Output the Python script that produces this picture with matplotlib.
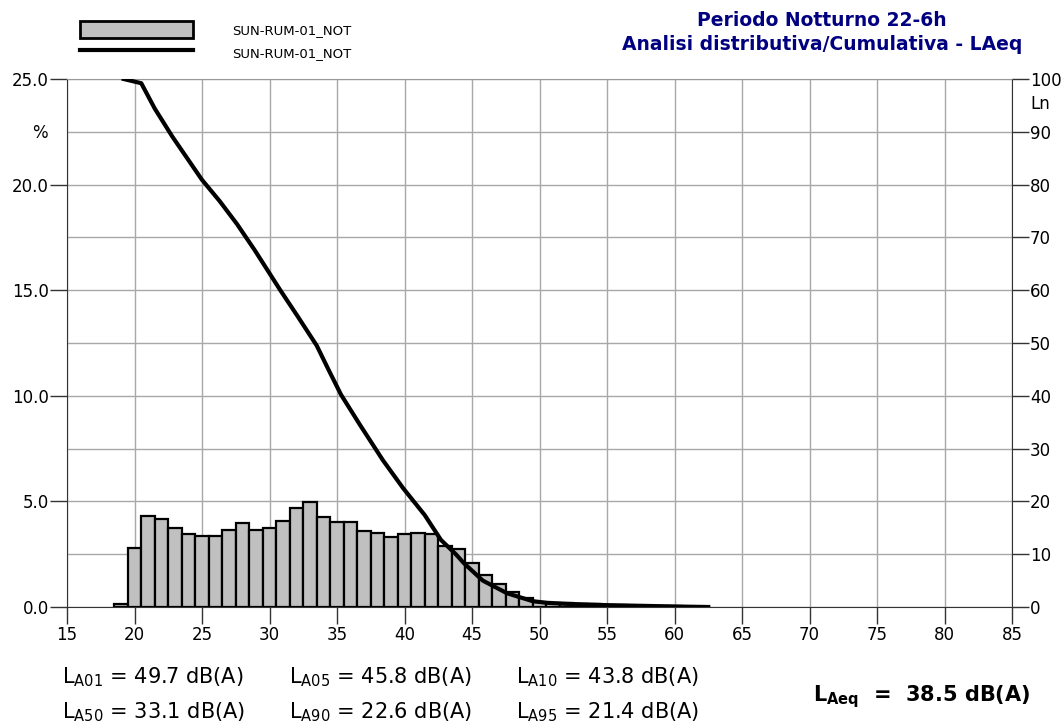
import numpy as np
import matplotlib.pyplot as plt
from matplotlib.patches import Patch
from matplotlib.lines import Line2D

plt.rcParams['font.family'] = ['DejaVu Sans']
plt.rcParams['mathtext.fontset'] = 'dejavusans'

# distribution (% of time per 1 dB class)
bar_levels = list(range(19, 63))
bar_pct = [0.13, 2.81, 4.31, 4.15, 3.72, 3.47, 3.36, 3.35, 3.65, 3.96,
           3.66, 3.72, 4.07, 4.67, 4.96, 4.27, 4.02, 4.02, 3.61, 3.49,
           3.33, 3.47, 3.52, 3.47, 2.89, 2.76, 2.10, 1.50, 1.07, 0.72,
           0.41, 0.25, 0.20, 0.17, 0.15, 0.12, 0.10, 0.08, 0.07, 0.05,
           0.04, 0.03, 0.02, 0.01]

# cumulative Ln curve
cum_x = [19.2, 20.5, 21.5, 22.8, 25.0, 26.3, 27.6, 28.9, 30.0, 30.8, 32.1,
         33.5, 34.4, 35.3, 36.7, 38.4, 39.9, 41.5, 42.7, 43.8, 44.4, 45.8,
         47.6, 49.5, 50.5, 52.0, 55.0, 58.0, 60.0, 62.5]
cum_ln = [100.0, 99.2, 94.4, 89.1, 80.9, 76.9, 72.5, 67.6, 63.2, 60.0, 55.0,
          49.5, 44.8, 40.2, 34.5, 27.8, 22.5, 17.4, 12.7, 10.0, 8.3, 5.0,
          2.6, 1.1, 0.8, 0.6, 0.35, 0.2, 0.1, 0.0]

label = 'SUN-RUM-01_NOT'
stats_top = [('A01', '49.7'), ('A05', '45.8'), ('A10', '43.8')]
stats_bot = [('A50', '33.1'), ('A90', '22.6'), ('A95', '21.4')]
laeq = '38.5'

fig = plt.figure(figsize=(10.62, 7.26), dpi=100)
ax = fig.add_axes([67/1062, 119/726, 945/1062, 528/726])

ax.bar(bar_levels, bar_pct, width=1.0, color='#c0c0c0', edgecolor='black',
       linewidth=1.6, zorder=3)

ax.set_xlim(15, 85)
ax.set_ylim(0, 25)
ax.set_xticks(np.arange(15, 86, 5))
ax.set_yticks(np.arange(0, 26, 5))
ax.set_yticks(np.arange(2.5, 25, 5), minor=True)
ax.set_yticklabels(['%.1f' % v for v in np.arange(0, 26, 5)])
ax.grid(True, which='both', color='#a8a8a8', linewidth=1, zorder=0)
ax.set_axisbelow(True)
ax.tick_params(axis='y', which='major', length=12, width=1, pad=1,
               labelsize=12, color='#333333')
ax.tick_params(axis='y', which='minor', length=0)
ax.tick_params(axis='x', length=12, width=1, pad=2, labelsize=12,
               color='#333333')
for s in ax.spines.values():
    s.set_color('#333333')
ax.spines['top'].set_color('#999999')

ax2 = ax.twinx()
ax2.plot(cum_x, cum_ln, color='black', linewidth=3, zorder=4,
         solid_joinstyle='round')
ax2.set_ylim(0, 100)
ax2.set_yticks(np.arange(0, 101, 10))
ax2.tick_params(axis='y', length=12, width=1, pad=1, labelsize=12,
                color='#333333')
for s in ax2.spines.values():
    s.set_visible(False)

fig.text(40/1062, 1 - 133/726, '%', fontsize=12, ha='center', va='center')
fig.text(1040/1062, 1 - 104/726, 'Ln', fontsize=12, ha='center', va='center')

handles = [Patch(facecolor='#c0c0c0', edgecolor='black', linewidth=2),
           Line2D([0], [0], color='black', linewidth=3)]
fig.legend(handles, [label, label], loc='upper left',
           bbox_to_anchor=(80/1062, 1 - 21/726), frameon=False,
           fontsize=9.5, handlelength=8.6, handleheight=1.6,
           handletextpad=2.9, labelspacing=0.45, borderpad=0,
           borderaxespad=0)

fig.text(822/1062, 1 - 21/726, 'Periodo Notturno 22-6h', fontsize=13.5,
         fontweight='bold', color='#000080', ha='center', va='center')
fig.text(822/1062, 1 - 44/726, 'Analisi distributiva/Cumulativa - LAeq',
         fontsize=13.5, fontweight='bold', color='#000080', ha='center',
         va='center')

cols = [62, 289, 516]
for (sub, val), xc in zip(stats_top, cols):
    fig.text(xc/1062, 1 - 677/726, r'L$\mathregular{_{%s}}$ = %s dB(A)' % (sub, val),
             fontsize=15, ha='left', va='center')
for (sub, val), xc in zip(stats_bot, cols):
    fig.text(xc/1062, 1 - 712/726, r'L$\mathregular{_{%s}}$ = %s dB(A)' % (sub, val),
             fontsize=15, ha='left', va='center')
fig.text(1030/1062, 1 - 697/726,
         r'L$\mathregular{_{Aeq}}$  =  %s dB(A)' % laeq,
         fontsize=15, fontweight='bold', ha='right', va='center')

fig.savefig('out.png', dpi=100)
